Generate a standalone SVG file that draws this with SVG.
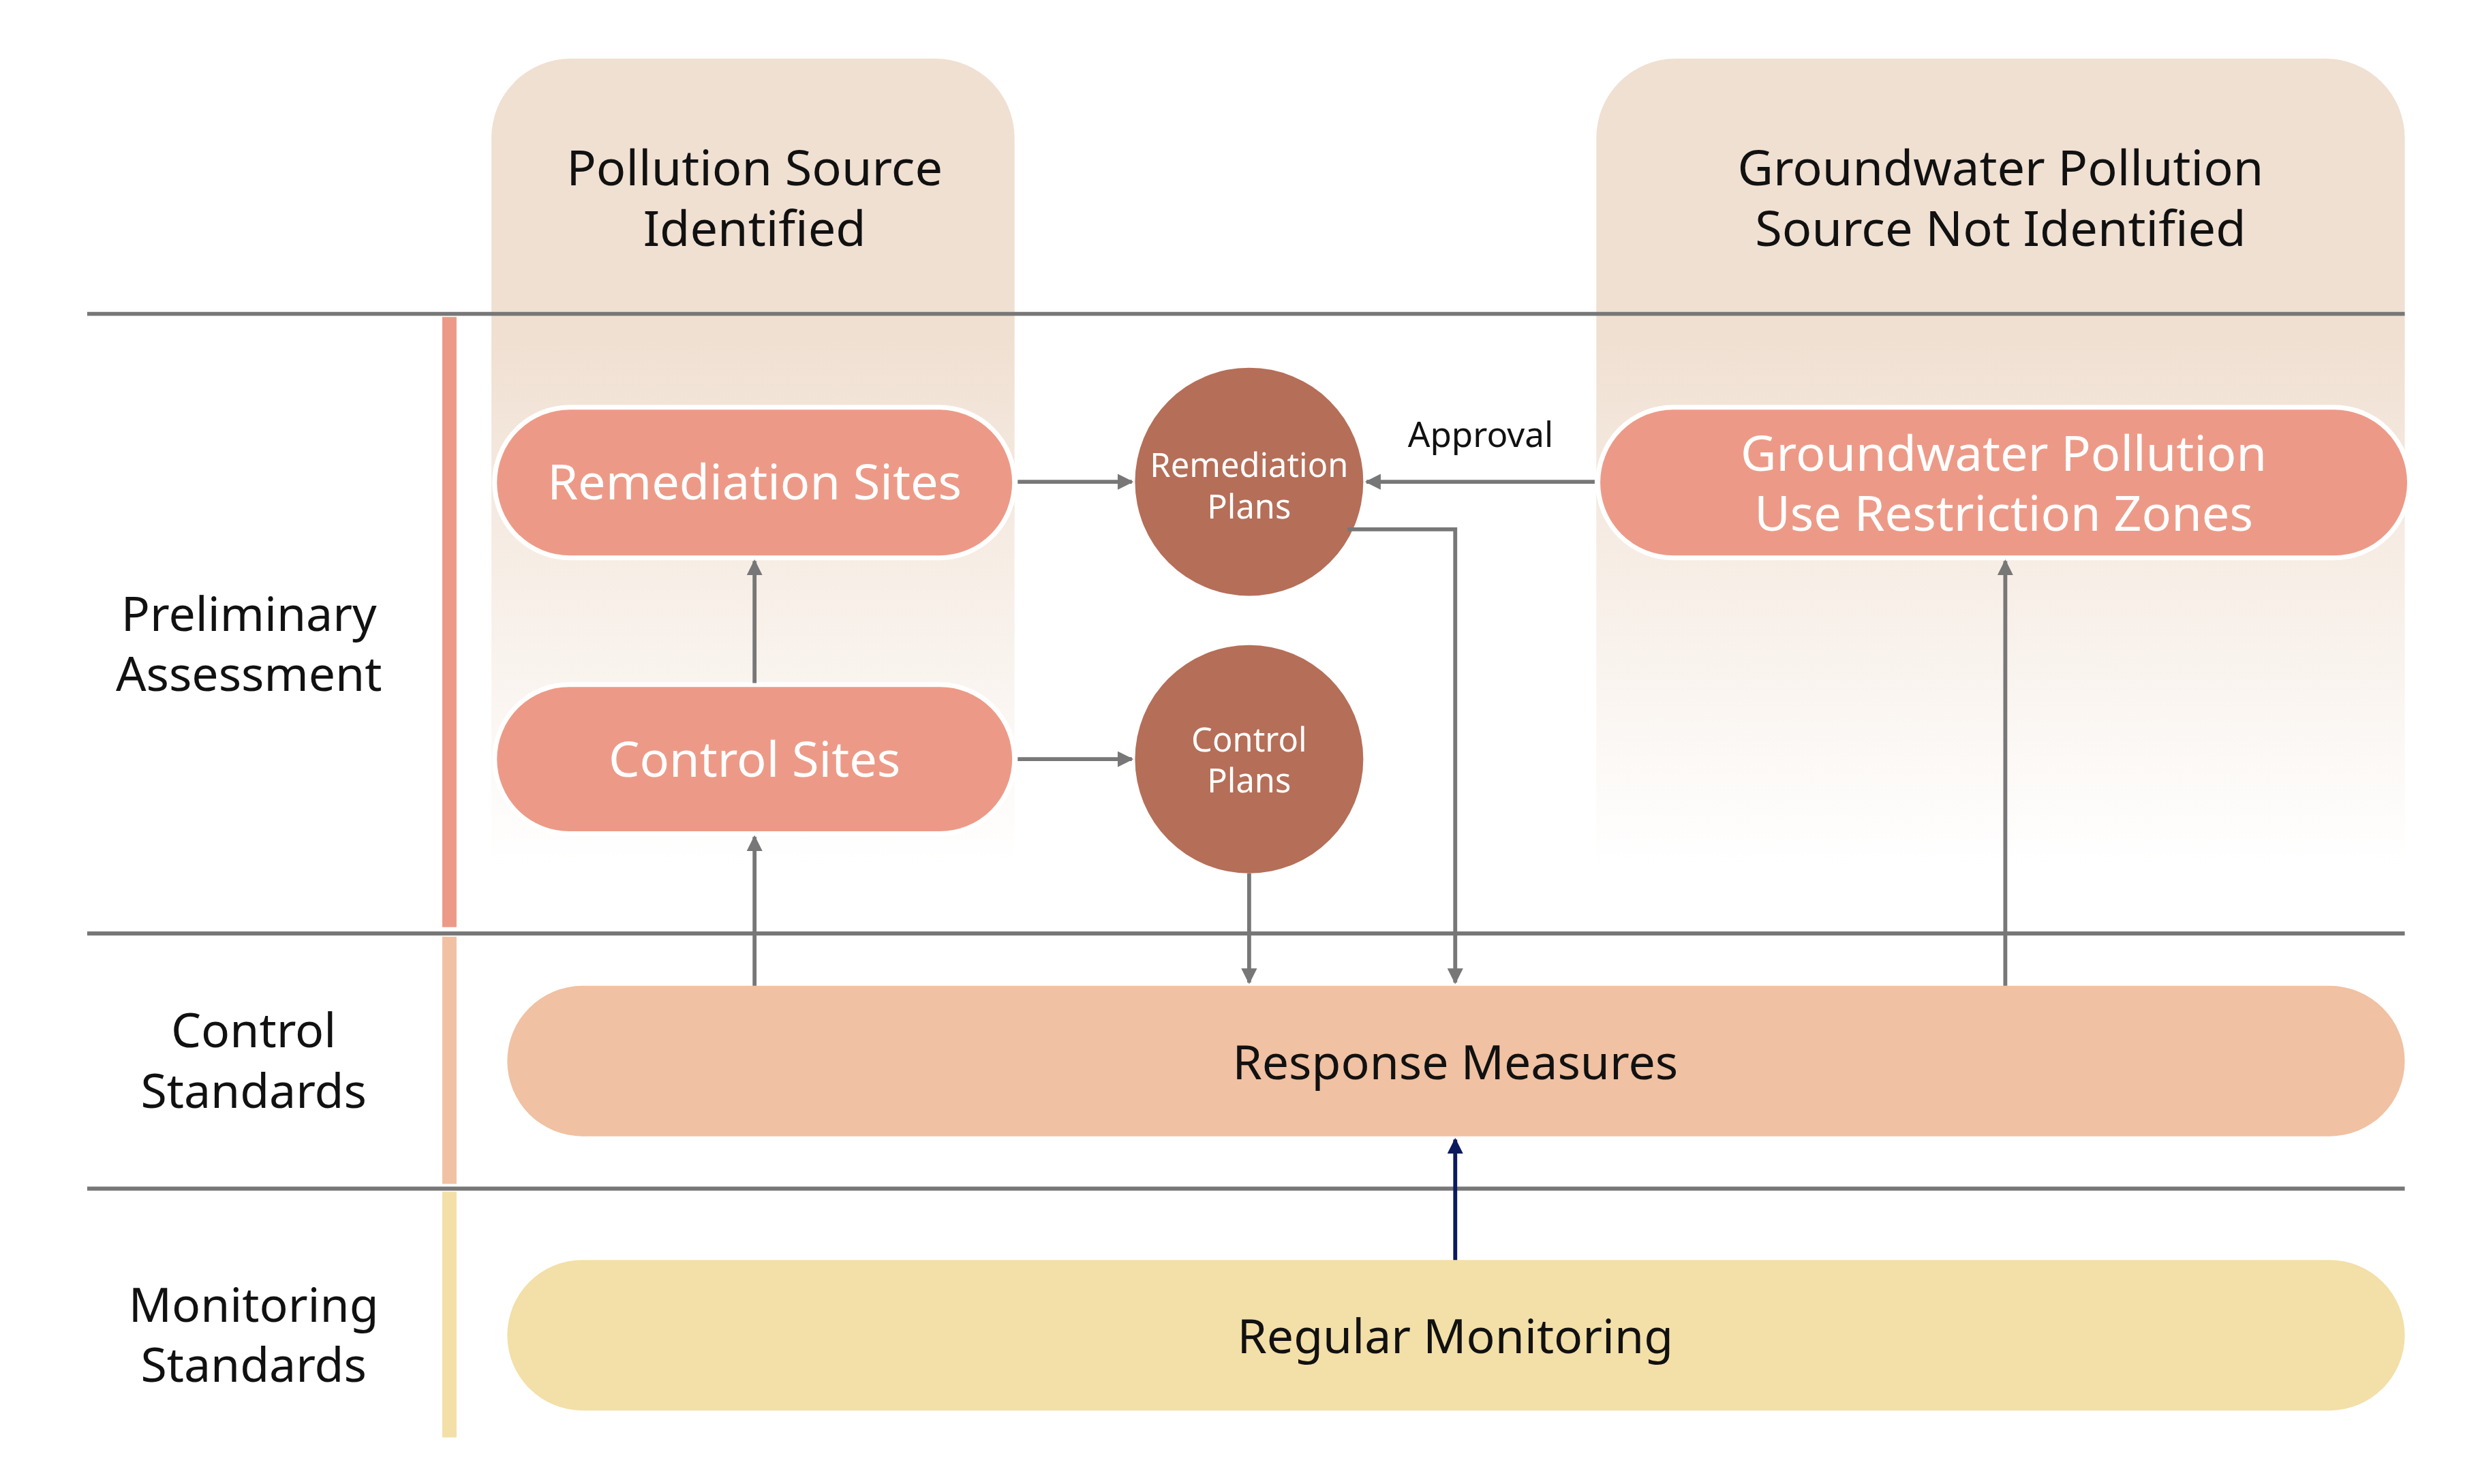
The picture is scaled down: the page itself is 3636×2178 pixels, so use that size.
<svg xmlns="http://www.w3.org/2000/svg" width="3636" height="2178" viewBox="0 0 3636 2178">
<style>
text{font-family:"Noto Sans","Open Sans",sans-serif;text-anchor:middle}
.hdr{font-size:31px;fill:#111}
.lbl{font-size:30px;fill:#111}
.pw{font-size:31px;fill:#fff}
.cw{font-size:21px;fill:#fff}
.sep{stroke:#777;stroke-width:2.5}
.ar{stroke:#777;stroke-width:2.5;fill:none;marker-end:url(#ah)}
</style>
<defs>
<linearGradient id="bg" x1="0" y1="0" x2="0" y2="1">
<stop offset="0" stop-color="#f0e0d2"/><stop offset="0.35" stop-color="#f0e0d2"/><stop offset="1" stop-color="#f0e0d2" stop-opacity="0"/>
</linearGradient>
<marker id="ah" viewBox="0 0 10 10" refX="9" refY="5" markerWidth="4" markerHeight="4" orient="auto"><path d="M0,0L10,5L0,10z" fill="#777"/></marker>
<marker id="ahn" viewBox="0 0 10 10" refX="9" refY="5" markerWidth="4" markerHeight="4" orient="auto"><path d="M0,0L10,5L0,10z" fill="#0b1a5c"/></marker>
</defs>
<rect width="3636" height="2178" fill="#fff"/>
<g transform="scale(2.326)">
<g id="columns">
<path d="M310,545V87a50,50 0 0 1 50,-50H590a50,50 0 0 1 50,50V545z" fill="url(#bg)"/>
<path d="M1007,545V87a50,50 0 0 1 50,-50H1467a50,50 0 0 1 50,50V545z" fill="url(#bg)"/>
<text class="hdr" x="476" y="117">Pollution Source</text>
<text class="hdr" x="476" y="155">Identified</text>
<text class="hdr" x="1262" y="117">Groundwater Pollution</text>
<text class="hdr" x="1262" y="155">Source Not Identified</text>
</g>
<g id="lanes">
<line class="sep" x1="55" y1="198" x2="1517" y2="198"/>
<line class="sep" x1="55" y1="589" x2="1517" y2="589"/>
<line class="sep" x1="55" y1="750" x2="1517" y2="750"/>
<rect x="279" y="200" width="9" height="385" fill="#ec9a87"/>
<rect x="279" y="591" width="9" height="156" fill="#f0c1a2"/>
<rect x="279" y="752" width="9" height="155" fill="#f3dfa8"/>
<text class="lbl" x="157" y="398">Preliminary</text>
<text class="lbl" x="157" y="436">Assessment</text>
<text class="lbl" x="160" y="661">Control</text>
<text class="lbl" x="160" y="699">Standards</text>
<text class="lbl" x="160" y="834">Monitoring</text>
<text class="lbl" x="160" y="872">Standards</text>
</g>
<g id="remediation-sites"><rect x="312" y="257" width="328" height="95" rx="47.5" fill="#ec9a87" stroke="#fff" stroke-width="3"/><text class="pw" x="476" y="315">Remediation Sites</text></g>
<g id="control-sites"><rect x="312" y="432" width="328" height="94" rx="47" fill="#ec9a87" stroke="#fff" stroke-width="3"/><text class="pw" x="476" y="490">Control Sites</text></g>
<g id="remediation-plans"><circle cx="788" cy="304" r="72" fill="#b56e58"/><text class="cw" x="788" y="301">Remediation</text><text class="cw" x="788" y="327">Plans</text></g>
<g id="control-plans"><circle cx="788" cy="479" r="72" fill="#b56e58"/><text class="cw" x="788" y="474">Control</text><text class="cw" x="788" y="500">Plans</text></g>
<g id="gw-zones"><rect x="1008" y="257" width="512" height="95" rx="47.5" fill="#ec9a87" stroke="#fff" stroke-width="3"/><text class="pw" x="1264" y="297">Groundwater Pollution</text><text class="pw" x="1264" y="335">Use Restriction Zones</text></g>
<g id="response"><rect x="320" y="622" width="1197" height="95" rx="47.5" fill="#f0c1a2"/><text class="lbl" x="918" y="681">Response Measures</text></g>
<g id="monitoring"><rect x="320" y="795" width="1197" height="95" rx="47.5" fill="#f3dfa8"/><text class="lbl" x="918" y="854">Regular Monitoring</text></g>
<g id="connectors">
<line class="ar" x1="642" y1="304" x2="714" y2="304"/>
<line class="ar" x1="642" y1="479" x2="714" y2="479"/>
<line class="ar" x1="476" y1="431" x2="476" y2="354"/>
<line class="ar" x1="476" y1="622" x2="476" y2="528"/>
<line class="ar" x1="788" y1="551" x2="788" y2="620"/>
<polyline class="ar" points="850,334 918,334 918,620"/>
<line class="ar" x1="1006" y1="304" x2="862" y2="304"/>
<text x="934" y="282" style="font-size:22px;fill:#111">Approval</text>
<line class="ar" x1="1265" y1="622" x2="1265" y2="354"/>
<line x1="918" y1="795" x2="918" y2="719" stroke="#0b1a5c" stroke-width="2.5" marker-end="url(#ahn)"/>
</g>
</g>
</svg>
